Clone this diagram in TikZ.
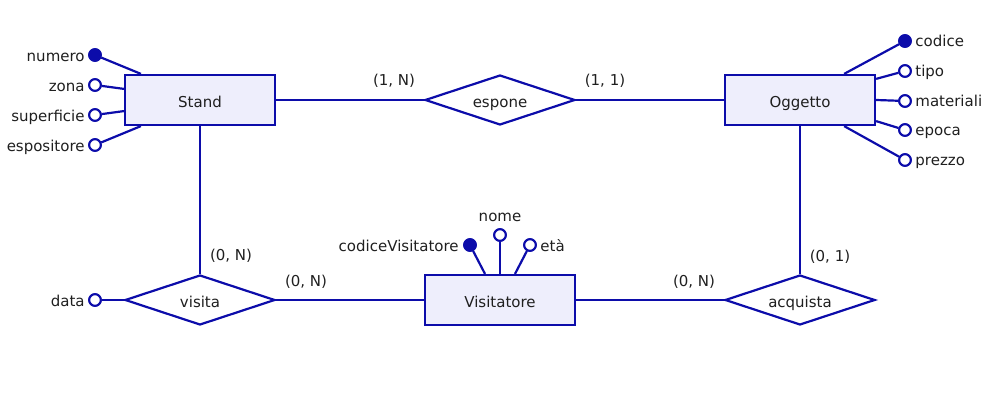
\documentclass[tikz,border=0pt]{standalone}
\usepackage{fontspec}
\setmainfont{DejaVu Sans}
\usetikzlibrary{shapes.geometric}
\definecolor{erline}{HTML}{0C0CAA}
\definecolor{erfill}{HTML}{EEEEFC}
\begin{document}
\begin{tikzpicture}[x=0.5pt,y=-0.5pt,
  every node/.style={font=\fontsize{7.5}{9}\selectfont, text=black!88},
  ent/.style={draw=erline, fill=erfill, line width=1.1pt, minimum width=75pt, minimum height=25pt, inner sep=0pt, text height=8.8pt, text depth=1.5pt},
  rel/.style={diamond, draw=erline, fill=white, line width=1.1pt, minimum width=75pt, minimum height=25pt, inner sep=0pt, aspect=3, text height=8.8pt, text depth=1.5pt},
  conn/.style={draw=erline, line width=1.1pt},
  attr/.style={circle, draw=erline, fill=white, line width=1pt, minimum size=5.8pt, inner sep=0pt},
  keyattr/.style={attr, fill=erline},
  lbl/.style={inner sep=0pt}
]
\useasboundingbox (0,0) rectangle (1000,400);
% entities and relationships
\node[ent] (stand) at (200,100) {Stand};
\node[rel] (espone) at (500,100) {espone};
\node[ent] (oggetto) at (800,100) {Oggetto};
\node[rel] (visita) at (200,300) {visita};
\node[ent] (visitatore) at (500,300) {Visitatore};
\node[rel] (acquista) at (800,300) {acquista};
% attribute circles
\node[keyattr] (numero) at (95,55) {};
\node[attr] (zona) at (95,85) {};
\node[attr] (superficie) at (95,115) {};
\node[attr] (espositore) at (95,145) {};
\node[keyattr] (codice) at (905,41) {};
\node[attr] (tipo) at (905,71) {};
\node[attr] (materiali) at (905,101) {};
\node[attr] (epoca) at (905,130) {};
\node[attr] (prezzo) at (905,160) {};
\node[keyattr] (codvis) at (470,245) {};
\node[attr] (nome) at (500,235) {};
\node[attr] (eta) at (530,245) {};
\node[attr] (data) at (95,300) {};
% connectors
\draw[conn] (stand.east) -- (espone.west);
\draw[conn] (espone.east) -- (oggetto.west);
\draw[conn] (stand.south) -- (visita.north);
\draw[conn] (visita.east) -- (visitatore.west);
\draw[conn] (visitatore.east) -- (acquista.west);
\draw[conn] (oggetto.south) -- (acquista.north);
% attribute links
\draw[conn] (numero) -- ([xshift=8.5pt]stand.north west);
\draw[conn] (zona) -- ([yshift=-7.5pt]stand.north west);
\draw[conn] (superficie) -- ([yshift=7.5pt]stand.south west);
\draw[conn] (espositore) -- ([xshift=8.5pt]stand.south west);
\draw[conn] (codice) -- ([xshift=-16pt]oggetto.north east);
\draw[conn] (tipo) -- ([yshift=-2.5pt]oggetto.north east);
\draw[conn] (materiali) -- (oggetto.east);
\draw[conn] (epoca) -- ([yshift=2.5pt]oggetto.south east);
\draw[conn] (prezzo) -- ([xshift=-16pt]oggetto.south east);
\draw[conn] (codvis) -- ([xshift=-7.5pt]visitatore.north);
\draw[conn] (nome) -- (visitatore.north);
\draw[conn] (eta) -- ([xshift=7.5pt]visitatore.north);
\draw[conn] (data) -- (visita.west);
% redraw circles on top
\foreach \n in {numero,codice,codvis}{\node[keyattr] at (\n) {};}
\foreach \n in {zona,superficie,espositore,tipo,materiali,epoca,prezzo,nome,eta,data}{\node[attr] at (\n) {};}
% attribute labels
\node[lbl, anchor=base east] (lnumero) at (85,61.5) {numero};
\node[lbl, anchor=base east] (lzona) at (85,91.5) {zona};
\node[lbl, anchor=base east] (lsuperficie) at (85,121.5) {superficie};
\node[lbl, anchor=base east] (lespositore) at (85,151.5) {espositore};
\node[lbl, anchor=base west] (lcodice) at (915,47) {codice};
\node[lbl, anchor=base west] (ltipo) at (915,77) {tipo};
\node[lbl, anchor=base west] (lmateriali) at (915,107) {materiali};
\node[lbl, anchor=base west] (lepoca) at (915,136) {epoca};
\node[lbl, anchor=base west] (lprezzo) at (915,166) {prezzo};
\node[lbl, anchor=base east] (lcodvis) at (459,251.5) {codiceVisitatore};
\node[lbl, anchor=base] (lnome) at (500,221.5) {nome};
\node[lbl, anchor=base west] (leta) at (540,251.5) {età};
\node[lbl, anchor=base east] (ldata) at (85,306.5) {data};
% cardinalities
\node[lbl, anchor=base] (c1) at (394,86) {(1, N)};
\node[lbl, anchor=base] (c2) at (605,86) {(1, 1)};
\node[lbl, anchor=base] (c3) at (231,261) {(0, N)};
\node[lbl, anchor=base] (c4) at (306,286.5) {(0, N)};
\node[lbl, anchor=base] (c5) at (694,286.5) {(0, N)};
\node[lbl, anchor=base] (c6) at (830,261.5) {(0, 1)};
\end{tikzpicture}
\end{document}
